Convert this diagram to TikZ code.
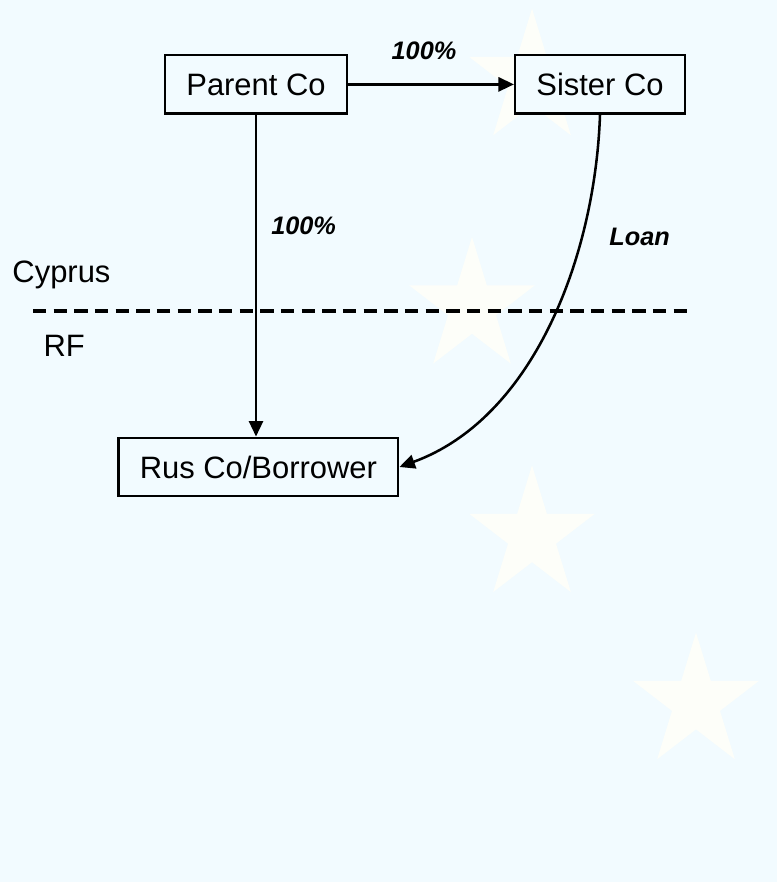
\documentclass[tikz,border=0pt]{standalone}
\usepackage{fontspec}
\setmainfont{Liberation Sans}
\usetikzlibrary{arrows.meta}
\definecolor{sky}{RGB}{242,251,255}
\definecolor{starwhite}{RGB}{253,254,249}
\begin{document}
\begin{tikzpicture}[>={Triangle[length=11pt,width=10pt]}, line width=1.8pt,
  box/.style={draw, fill=sky, minimum height=1.46cm, inner xsep=.53cm, font=\fontsize{22}{26}\selectfont},
  lbl/.style={inner sep=0, font=\fontsize{18}{21}\selectfont\bfseries\itshape},
  side/.style={inner sep=0, anchor=base west, font=\fontsize{22}{26}\selectfont}]
\fill[sky](0,0) rectangle (19.425,22.05);
% faint stars on a ring, only the left part shows
\foreach \a in {150,180,210,240}
\fill[starwhite, shift={(23,14.375)}, shift={(\a:11.2cm and 11.42cm)}, yscale=1.06]
  (90:1.65)--(234:1.65)--(18:1.65)--(162:1.65)--(306:1.65)--cycle;
% border line
\draw[line width=2.8pt, dash pattern=on 9.5pt off 5.2pt](0.825,14.28)--(17.3,14.28);
\node[side] (cy) at (0.28,14.975) {Cyprus};
\node[side] (rf) at (1.06,13.125) {RF};
% companies
\node[box] (parent) at (6.4,19.94) {Parent Co};
\node[box] (sister) at (15,19.94) {Sister Co};
\node[box] (rus) at (6.46,10.375) {Rus Co/Borrower};
\draw[->](parent)--(sister);
\draw[->](parent.south)--(parent.south |- rus.north);
\draw[->](sister.south) to[out=-92, in=20, looseness=.9] (rus.east);
\node[lbl] (own1) at (10.6,20.775) {100\%};
\node[lbl, anchor=west] (own2) at (6.75,16.4) {100\%};
\node[lbl] (loan) at (15.99,16.13) {Loan};
\end{tikzpicture}
\end{document}
